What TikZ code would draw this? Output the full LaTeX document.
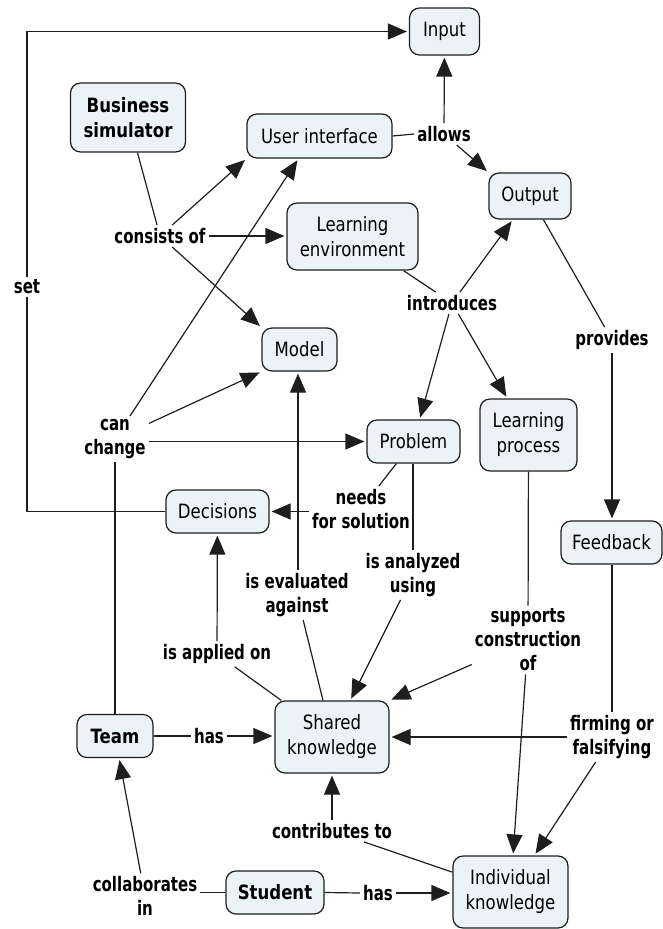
\documentclass[tikz,border=0pt]{standalone}
\usepackage{fontspec}
\usetikzlibrary{arrows.meta,calc}
\newfontfamily\cnodefont{DejaVu Sans}[FakeStretch=0.84]
\newfontfamily\clblfont{DejaVu Sans}[FakeStretch=0.75]
\definecolor{nodefill}{RGB}{236,243,246}
\definecolor{linecol}{RGB}{30,30,30}
\begin{document}
\begin{tikzpicture}[x=1pt,y=-1pt,
  concept/.style={draw=linecol, line width=1.2pt, fill=nodefill, rounded corners=10pt,
    align=center, inner sep=2pt, font=\cnodefont\fontsize{19.7}{25}\selectfont},
  lbl/.style={align=center, inner sep=3pt, font=\clblfont\bfseries\fontsize{20}{24}\selectfont},
  conn/.style={draw=linecol, line width=1.2pt},
  arr/.style={conn, -{Triangle[length=19pt,width=16pt]}, shorten >=2pt}]
\useasboundingbox (0,0) rectangle (662,929);
% concepts
\node[concept, minimum width=70pt, minimum height=47pt] (input) at (444.5,31.5) {Input};
\node[concept, minimum width=145pt, minimum height=44pt] (ui) at (319.5,136) {User interface};
\node[concept, minimum width=82pt, minimum height=46pt] (output) at (530,196) {Output};
\node[concept, minimum width=115pt, minimum height=69pt, font=\cnodefont\bfseries\fontsize{19.7}{25}\selectfont] (bs) at (128,117.5) {Business\\simulator};
\node[concept, minimum width=131pt, minimum height=67pt] (le) at (352.5,236.5) {Learning\\environment};
\node[concept, minimum width=75pt, minimum height=43pt] (model) at (299.5,349.5) {Model};
\node[concept, minimum width=93pt, minimum height=43pt] (prob) at (413.5,441.5) {Problem};
\node[concept, minimum width=97pt, minimum height=72pt] (lp) at (528.5,435) {Learning\\process};
\node[concept, minimum width=103pt, minimum height=43pt] (dec) at (217.5,511.5) {Decisions};
\node[concept, minimum width=101pt, minimum height=43pt] (fb) at (611.5,542.5) {Feedback};
\node[concept, minimum width=76pt, minimum height=43pt, font=\cnodefont\bfseries\fontsize{19.7}{25}\selectfont] (team) at (115,736) {Team};
\node[concept, minimum width=114pt, minimum height=72pt] (shared) at (332,737) {Shared\\knowledge};
\node[concept, minimum width=98pt, minimum height=43pt, font=\cnodefont\bfseries\fontsize{19.7}{25}\selectfont] (stud) at (275,892.5) {Student};
\node[concept, minimum width=115pt, minimum height=72pt] (indiv) at (510.5,892) {Individual\\knowledge};
% linking phrases
\node[lbl] (allows) at (444,134) {allows};
\node[lbl] (cons) at (160,236) {consists of};
\node[lbl] (set) at (27,287) {set};
\node[lbl] (intro) at (452,303) {introduces};
\node[lbl] (prov) at (612,340) {provides};
\node[lbl] (cc) at (115,439) {can\\change};
\node[lbl] (needs) at (361,509) {needs\\for solution};
\node[lbl] (analyzed) at (413,575) {is analyzed\\using};
\node[lbl] (eval) at (297,595) {is evaluated\\against};
\node[lbl] (sup) at (528,640) {supports\\construction\\of};
\node[lbl] (applied) at (217,654) {is applied on};
\node[lbl] (has1) at (209,736) {has};
\node[lbl] (firm) at (612,737) {firming or\\falsifying};
\node[lbl] (contrib) at (332,831) {contributes to};
\node[lbl] (collab) at (145,896) {collaborates\\in};
\node[lbl] (has2) at (378,893) {has};
% connectors
\draw[conn] (bs) -- (cons);
\draw[arr] (cons) -- (ui.south west);
\draw[arr] (cons.east) -- (cons.east -| le.west);
\draw[arr] (cons) -- (model.north west);
\draw[conn] (ui.east) -- (allows.west);
\draw[arr] (allows) -- (input);
\draw[arr] (allows) -- (output.north west);
\draw[conn] (le) -- (intro);
\draw[arr] (intro) -- (output);
\draw[arr] (intro) -- (prob);
\draw[arr] (intro) -- (lp);
\draw[conn] (output) -- (prov);
\draw[arr] (prov) -- (prov |- fb.north);
\draw[arr] (cc) -- ($(ui.south)+(-21,0)$);
\draw[arr] (cc) -- (model.south west);
\draw[arr] (prob.west -| cc.east) -- (prob.west);
\draw[conn] (team) -- (cc);
\draw[conn] (dec.west) -| (set.south);
\draw[arr] (set.north) |- (input.west);
\draw[conn] (prob) -- (needs);
\draw[arr] (needs.west |- dec.east) -- (dec.east);
\draw[conn] (prob.south -| analyzed.north) -- (analyzed.north);
\draw[arr] (analyzed) -- (shared);
\draw[conn] (shared) -- (eval);
\draw[arr] ($(eval.north)+(1,0)$) -- ($(eval.north |- model.south)+(1,0)$);
\draw[conn] (shared) -- (applied);
\draw[arr] (applied) -- (dec);
\draw[conn] (lp) -- (sup);
\draw[arr] (sup) -- (shared.north east);
\draw[arr] (sup) -- (indiv);
\draw[conn] (fb.south -| firm.north) -- (firm.north);
\draw[arr] (firm.west) -- (firm.west -| shared.east);
\draw[arr] (firm) -- (indiv);
\draw[conn] (team.east) -- (has1.west);
\draw[arr] (has1.east) -- (has1.east -| shared.west);
\draw[conn] (stud.west) -- (stud.west -| collab.east);
\draw[arr] (collab) -- (team);
\draw[conn] (stud.east) -- (has2.west);
\draw[arr] (has2.east) -- (has2.east -| indiv.west);
\draw[conn] (indiv) -- (contrib);
\draw[arr] (contrib) -- (shared);
\end{tikzpicture}
\end{document}
